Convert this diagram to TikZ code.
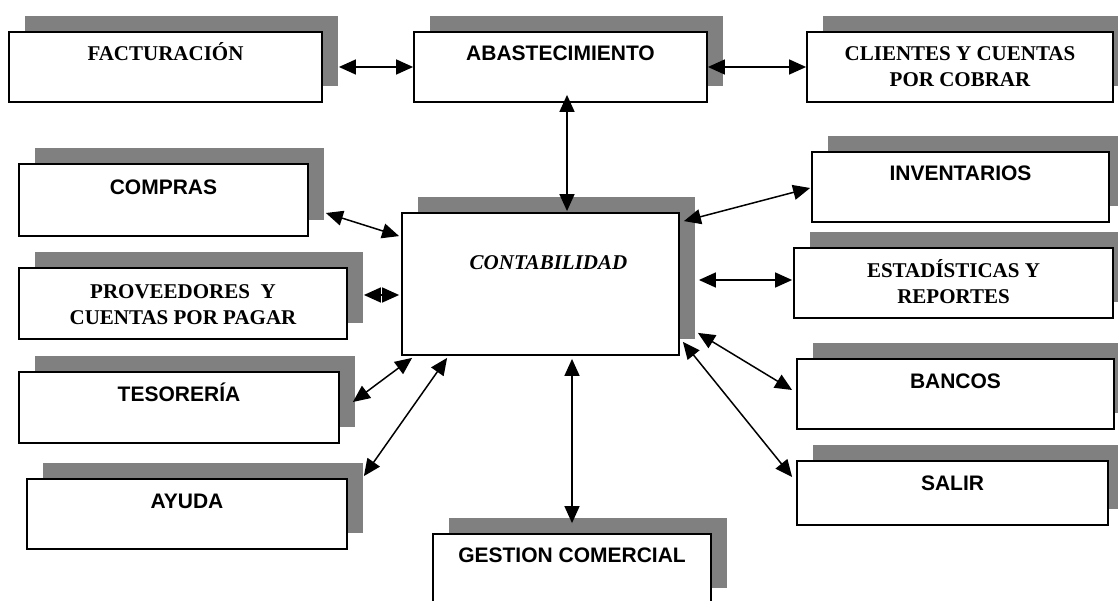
\documentclass[tikz,border=0pt]{standalone}
\usepackage{fontspec}
\setmainfont{Liberation Serif}
\setsansfont{Liberation Sans}
\usetikzlibrary{arrows.meta,shadows}
\definecolor{boxshadow}{HTML}{808080}
\begin{document}
\begin{tikzpicture}[x=1pt,y=-1pt,
  module/.style={draw=black, line width=1.8pt, fill=white, inner sep=0pt,
    general shadow={fill=boxshadow, shadow xshift=16pt, shadow yshift=16pt}},
  titleserif/.style={font=\fontsize{21}{25.5}\selectfont\bfseries, align=center, anchor=base, inner sep=0pt},
  titlesans/.style={font=\fontsize{21}{25.5}\selectfont\sffamily\bfseries, align=center, anchor=base, inner sep=0pt},
  link/.style={line width=1.5pt, {Triangle[length=17pt,width=15pt]}-{Triangle[length=17pt,width=15pt]}}]
\useasboundingbox (0,0) rectangle (1118,601);
\clip (0,0) rectangle (1118,601);

% modules
\node[module, minimum width=313pt, minimum height=70pt] (fac) at (165.5,67) {};
\node[module, minimum width=293pt, minimum height=70pt] (abs) at (560.5,67) {};
\node[module, minimum width=306pt, minimum height=70pt] (cli) at (960,67) {};
\node[module, minimum width=289pt, minimum height=72pt] (com) at (163.5,200) {};
\node[module, minimum width=328pt, minimum height=71pt] (pro) at (183,303.5) {};
\node[module, minimum width=320pt, minimum height=71pt] (tes) at (179,407.5) {};
\node[module, minimum width=320pt, minimum height=70pt] (ayu) at (187,514) {};
\node[module, minimum width=277pt, minimum height=142pt] (con) at (540.5,284) {};
\node[module, minimum width=297pt, minimum height=70pt] (inv) at (960.5,187) {};
\node[module, minimum width=319pt, minimum height=70pt] (est) at (953.5,283) {};
\node[module, minimum width=317pt, minimum height=70pt] (ban) at (955.5,394) {};
\node[module, minimum width=311pt, minimum height=64pt] (sal) at (952.5,493) {};
\node[module, minimum width=278pt, minimum height=70pt] (ges) at (572,569) {};

% titles (multi-line titles sit on the baseline of their last line)
\node[titleserif] (tfac) at ([shift={(0,29)}]fac.north) {FACTURACIÓN};
\node[titlesans] (tabs) at ([shift={(0,29)}]abs.north) {ABASTECIMIENTO};
\node[titleserif] (tcli) at ([shift={(0,55)}]cli.north) {CLIENTES Y CUENTAS\\POR COBRAR};
\node[titlesans] (tcom) at ([shift={(0,31)}]com.north) {COMPRAS};
\node[titleserif] (tpro) at ([shift={(0,57)}]pro.north) {PROVEEDORES\ \ Y\\CUENTAS POR PAGAR};
\node[titlesans] (ttes) at ([shift={(0,30)}]tes.north) {TESORERÍA};
\node[titlesans] (tayu) at ([shift={(0,30)}]ayu.north) {AYUDA};
\node[titleserif] (tcon) at ([shift={(8,57)}]con.north) {\itshape CONTABILIDAD};
\node[titlesans] (tinv) at ([shift={(0,29)}]inv.north) {INVENTARIOS};
\node[titleserif] (test) at ([shift={(0,56)}]est.north) {ESTADÍSTICAS Y\\REPORTES};
\node[titlesans] (tban) at ([shift={(0,30)}]ban.north) {BANCOS};
\node[titlesans] (tsal) at ([shift={(0,30)}]sal.north) {SALIR};
\node[titlesans] (tges) at ([shift={(0,29)}]ges.north) {GESTION COMERCIAL};

% connections
\draw[link] ([shift={(16,0)}]fac.east) -- (abs.west);
\draw[link] (abs.east) -- (cli.west);
\draw[link] ([shift={(6.5,-8)}]abs.south) -- ([shift={(26.5,-1)}]con.north);
\draw[link] ([shift={(17,13)}]com.east) -- ([shift={(-2,24)}]con.north west);
\draw[link] ([shift={(16,-8.5)}]pro.east) -- ([shift={(-2,11)}]con.west);
\draw[link] ([shift={(13,-5.5)}]tes.east) -- ([shift={(11,2)}]con.south west);
\draw[link] ([shift={(16,-2)}]ayu.north east) -- ([shift={(46,2)}]con.south west);
\draw[link] ([shift={(0,-10)}]ges.north) -- ([shift={(31.5,3)}]con.south);
\draw[link] ([shift={(-1,1)}]inv.west) -- ([shift={(4,9)}]con.north east);
\draw[link] ([shift={(-1,-3)}]est.west) -- ([shift={(19,-4)}]con.east);
\draw[link] ([shift={(-4,-4)}]ban.west) -- ([shift={(18,-23)}]con.south east);
\draw[link] ([shift={(-4,-16)}]sal.west) -- ([shift={(3,-14)}]con.south east);
\end{tikzpicture}
\end{document}
